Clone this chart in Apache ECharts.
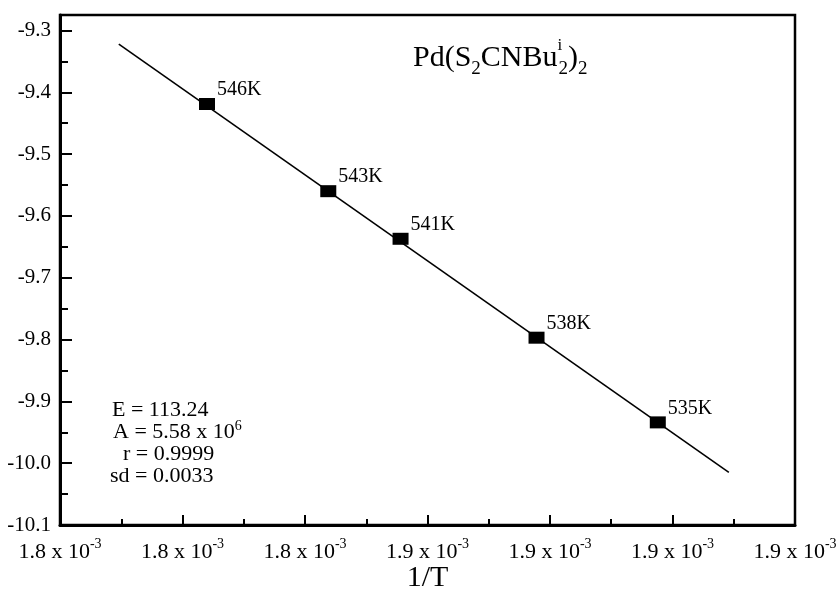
<!DOCTYPE html>
<html>
<head>
<meta charset="utf-8">
<style>
  html, body { margin: 0; padding: 0; background: #fff; }
  #main { width: 836px; height: 592px; }
</style>
</head>
<body>
<div id="main"></div>
<script src="https://cdn.jsdelivr.net/npm/echarts@6/dist/echarts.min.js"></script>
<script>
// temperatures of the measured points
var temps = ['546K', '543K', '541K', '538K', '535K'];
// 1/T of each point
var invT = [0.0018320, 0.0018419, 0.0018478, 0.0018589, 0.0018688];
// ln k of each point
var lnK = [-9.419, -9.560, -9.637, -9.797, -9.934];
// ends of the fitted line
var fitX = [0.0018248, 0.0018746];
var fitY = [-9.322, -10.015];
// x tick labels (rounded as printed in the figure)
var xTickLabels = ['1.8', '1.8', '1.8', '1.9', '1.9', '1.9', '1.9'];
// fit results
var fitText = ['E = 113.24', 'A = 5.58 x 10{sup|6}', 'r = 0.9999', 'sd = 0.0033'];

var serif = '"Liberation Serif", "DejaVu Serif", serif';

var points = [];
for (var i = 0; i < invT.length; i++) {
  points.push({ value: [invT[i], lnK[i]], name: temps[i] });
}
var fitLine = [];
for (var j = 0; j < fitX.length; j++) {
  fitLine.push([fitX[j], fitY[j]]);
}

var chart = echarts.init(document.getElementById('main'));

var option = {
  animation: false,
  backgroundColor: '#fff',
  grid: {
    left: 60,
    right: 41,
    top: 15,
    bottom: 67,
    containLabel: false,
    outerBoundsMode: 'none',
    show: true,
    borderColor: '#000',
    borderWidth: 2.5
  },
  xAxis: {
    type: 'value',
    min: 0.00182,
    max: 0.00188,
    interval: 0.00001,
    name: '1/T',
    nameLocation: 'middle',
    nameGap: 38,
    nameMoveOverlap: false,
    nameTextStyle: { fontFamily: serif, fontSize: 30, color: '#000' },
    axisLine: { show: true, lineStyle: { color: '#000', width: 3 } },
    axisTick: { show: true, inside: true, length: 10, lineStyle: { color: '#000', width: 2 } },
    minorTick: { show: true, splitNumber: 2, length: 6, lineStyle: { color: '#000', width: 2 } },
    splitLine: { show: false },
    axisLabel: {
      margin: 12,
      fontFamily: serif,
      fontSize: 22,
      color: '#000',
      formatter: function (v, idx) {
        return '{a|' + xTickLabels[idx] + ' x 10}{s|-3}';
      },
      rich: {
        a: { fontFamily: serif, fontSize: 22, color: '#000', lineHeight: 26, verticalAlign: 'bottom' },
        s: { fontFamily: serif, fontSize: 14, color: '#000', lineHeight: 26, verticalAlign: 'top' }
      }
    }
  },
  yAxis: {
    type: 'value',
    min: -10.1,
    max: -9.275,
    interval: 0.1,
    axisLine: { show: true, lineStyle: { color: '#000', width: 3 } },
    axisTick: { show: true, inside: true, length: 12, lineStyle: { color: '#000', width: 2 } },
    minorTick: { show: true, splitNumber: 2, length: 8, lineStyle: { color: '#000', width: 2 } },
    splitLine: { show: false },
    axisLabel: {
      margin: 9,
      showMaxLabel: false,
      fontFamily: serif,
      fontSize: 21,
      color: '#000',
      formatter: function (v) { return v.toFixed(1); }
    }
  },
  series: [
    {
      type: 'line',
      data: fitLine,
      showSymbol: false,
      symbol: 'none',
      lineStyle: { color: '#000', width: 1.6 },
      silent: true,
      z: 1
    },
    {
      type: 'scatter',
      data: points,
      symbol: 'rect',
      symbolSize: [16, 12],
      itemStyle: { color: '#000', opacity: 1 },
      label: {
        show: true,
        position: 'right',
        distance: 2,
        offset: [0, -14],
        formatter: '{b}',
        fontFamily: serif,
        fontSize: 20,
        color: '#000'
      },
      z: 2
    }
  ],
  graphic: [
    {
      type: 'text',
      left: 413,
      top: 37,
      style: {
        text: 'Pd(S{sub|2}CNBu{sup|i}{sub|2}){sub|2}',
        fontFamily: serif,
        fontSize: 30,
        fill: '#000',
        rich: {
          sub: { fontFamily: serif, fontSize: 19, fill: '#000', lineHeight: 19, verticalAlign: 'bottom' },
          sup: { fontFamily: serif, fontSize: 17, fill: '#000', lineHeight: 19, verticalAlign: 'top', width: 1 }
        },
        lineHeight: 42
      }
    },
    {
      type: 'group',
      left: 110,
      top: 397,
      children: fitText.map(function (t, k) {
        var dx = [2, 3, 13, 0][k];
        return {
          type: 'text',
          x: dx,
          y: k * 22,
          style: {
            text: t,
            fontFamily: serif,
            fontSize: 22,
            fill: '#000',
            lineHeight: 26,
            rich: {
              sup: { fontFamily: serif, fontSize: 14, fill: '#000', lineHeight: 26, verticalAlign: 'top' }
            }
          }
        };
      })
    }
  ]
};

chart.setOption(option);
window.addEventListener('resize', function () {
  chart.resize();
});
</script>
</body>
</html>
